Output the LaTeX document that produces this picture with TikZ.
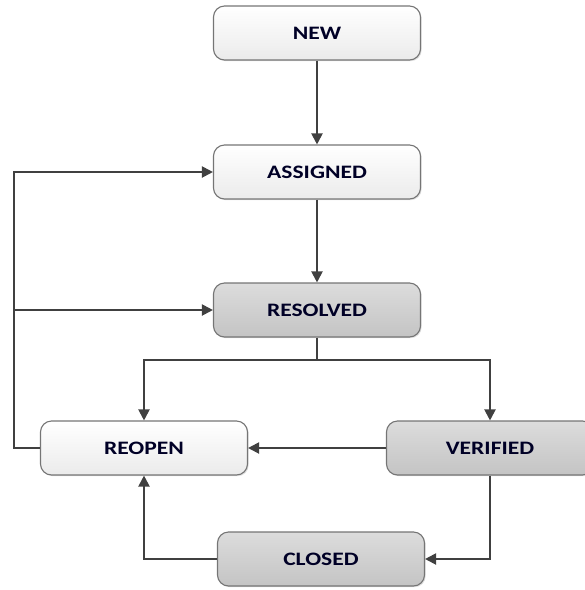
\documentclass[tikz,border=0pt]{standalone}
\usepackage{fontspec}
\usepackage{graphicx}
\setmainfont{Carlito}
\usetikzlibrary{arrows.meta,shadows,calc}
\definecolor{linegray}{HTML}{404040}
\definecolor{boxborder}{HTML}{757575}
\definecolor{lighttop}{HTML}{FFFFFF}
\definecolor{lightbot}{HTML}{EBEBEB}
\definecolor{darktop}{HTML}{DCDCDC}
\definecolor{darkbot}{HTML}{C4C4C4}
\newcommand{\stxt}[1]{\scalebox{1.24}[1]{#1}}
\tikzset{
  statebox/.style={draw=boxborder, line width=1.1pt, rounded corners=11pt,
    minimum width=207pt, minimum height=54pt, inner sep=0pt,
    font=\fontsize{19}{22}\selectfont\bfseries, text=black!85!blue,
    drop shadow={shadow xshift=1.2pt, shadow yshift=-1.2pt, opacity=0.25}},
  lightbox/.style={statebox, top color=lighttop, bottom color=lightbot},
  darkbox/.style={statebox, top color=darktop, bottom color=darkbot},
  conn/.style={draw=linegray, line width=2pt,
    -{Triangle[length=11pt,width=11pt]}},
  plain/.style={draw=linegray, line width=2pt}
}
\begin{document}
\begin{tikzpicture}[x=1pt,y=-1pt]
\useasboundingbox (0,0) rectangle (585,590);
\node[lightbox] (new) at (317,33) {\stxt{NEW}};
\node[lightbox] (assigned) at (317,172) {\stxt{ASSIGNED}};
\node[darkbox] (resolved) at (317,310) {\stxt{RESOLVED}};
\node[lightbox] (reopen) at (144,448) {\stxt{REOPEN}};
\node[darkbox] (verified) at (490,448) {\stxt{VERIFIED}};
\node[darkbox] (closed) at (321,559) {\stxt{CLOSED}};
\coordinate (lft) at (14,448);
\coordinate (lres) at (14,310);
\coordinate (split) at (317,360);
\draw[conn] (new) -- (assigned);
\draw[conn] (assigned) -- (resolved);
\draw[conn] (reopen.west) -- (lft) |- (assigned.west);
\draw[conn] (lres) -- (resolved.west);
\draw[plain] (resolved.south) -- (split);
\draw[conn] (split) -| (reopen.north);
\draw[conn] (split) -| (verified.north);
\draw[conn] (verified.west) -- (reopen.east);
\draw[conn] (verified.south) |- (closed.east);
\draw[conn] (closed.west) -| (reopen.south);
\end{tikzpicture}
\end{document}
